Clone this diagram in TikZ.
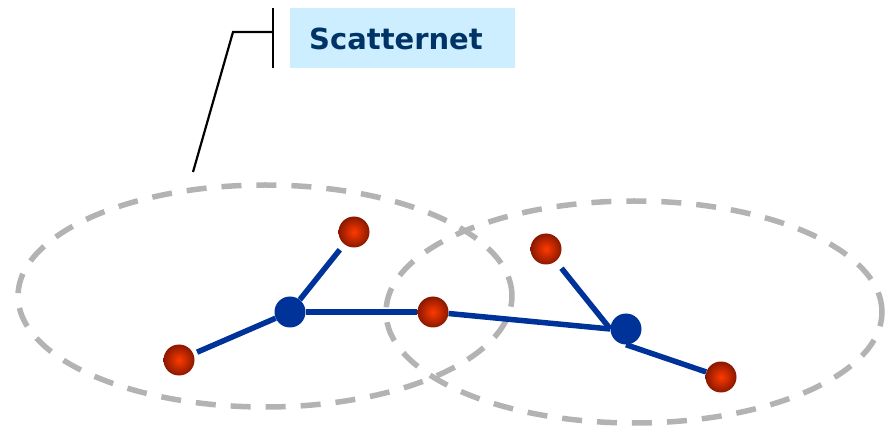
\documentclass[tikz,border=0pt]{standalone}
\usepackage{fontspec}
\setmainfont{DejaVu Sans}
\begin{document}
\begin{tikzpicture}[x=1pt,y=-1pt,
  slave/.style={circle,minimum size=31pt,inner sep=0pt,inner color=redin,outer color=redout},
  master/.style={circle,minimum size=31pt,inner sep=0pt,fill=bluelink},
  link/.style={draw=bluelink,line width=5.5pt},
  piconet/.style={draw=grayring,line width=5.5pt,dash pattern=on 20pt off 15pt},
  callout/.style={draw=black,line width=2.2pt}]
\definecolor{redin}{HTML}{FF3A00}
\definecolor{redout}{HTML}{8A1800}
\definecolor{bluelink}{HTML}{003399}
\definecolor{grayring}{HTML}{B3B3B3}
\definecolor{boxfill}{HTML}{CCEEFF}
\definecolor{textblue}{HTML}{003366}
\useasboundingbox (0,0) rectangle (889,430);
% piconets
\draw[piconet] (265,296) ellipse [x radius=247pt, y radius=111pt];
\draw[piconet] (634,312) ellipse [x radius=248pt, y radius=111pt];
% callout
\node[fill=boxfill,minimum width=225pt,minimum height=60pt,inner sep=0pt] (box) at (402.5,38) {};
\node[text=textblue,font=\bfseries\fontsize{29}{31}\selectfont,inner sep=0pt] (lbl) at (396,39) {Scatternet};
\coordinate (c0) at (193,172);
\coordinate (c1) at (233,32);
\coordinate (c2) at (273,32);
\coordinate (t1) at (273,8);
\coordinate (t2) at (273,68);
\draw[callout] (c0) -- (c1) -- (c2);
\draw[callout] (t1) -- (t2);
% nodes
\node[master] (m1) at (290,312) {};
\node[master] (m2) at (626,329) {};
\node[slave] (r1) at (354,232) {};
\node[slave] (r2) at (179,360) {};
\node[slave] (r3) at (433,312) {};
\node[slave] (r4) at (546,249) {};
\node[slave] (r5) at (721,377) {};
% links
\draw[link,shorten >=7pt] (m1) -- (r1);
\draw[link,shorten >=4pt] (m1) -- (r2);
\draw[link] (m1) -- (r3);
\draw[link] (r3) -- (m2.west);
\draw[link,shorten <=9pt] (r4) -- (m2.west);
\draw[link] (m2.south) -- (r5);
\end{tikzpicture}
\end{document}
